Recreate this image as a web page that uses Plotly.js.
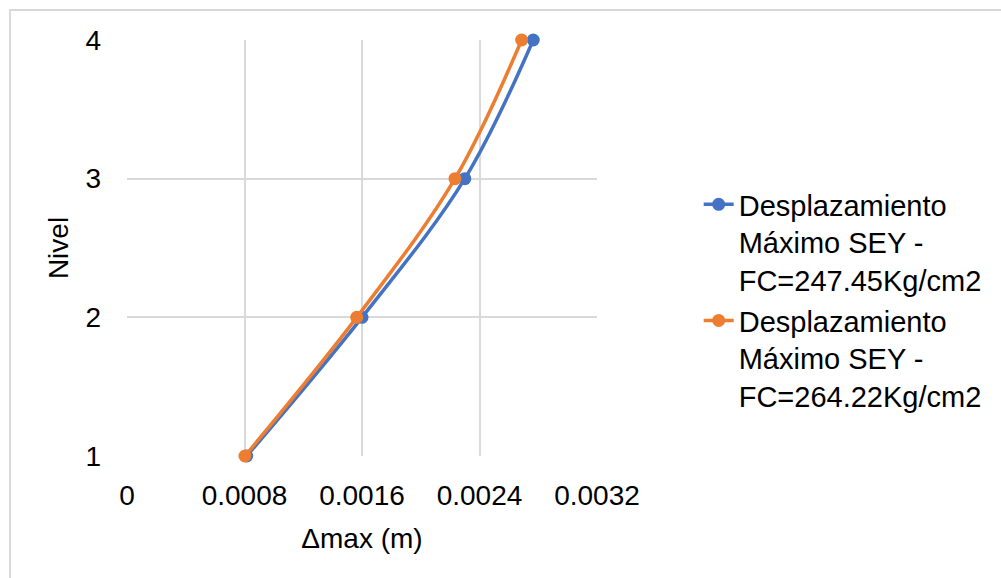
<!DOCTYPE html>
<html>
<head>
<meta charset="utf-8">
<script src="https://cdn.plot.ly/plotly-3.0.1.min.js"></script>
<style>
  html, body { margin: 0; padding: 0; background: #ffffff; }
  #chart { width: 1001px; height: 578px; }
</style>
</head>
<body>
<div id="chart"></div>
<script>
// Storey levels and maximum displacement per level (m)
const niveles = [1, 2, 3, 4];
const despFc247 = [0.000815, 0.00160, 0.00230, 0.002766];
const despFc264 = [0.000803, 0.001564, 0.002233, 0.002687];
const serieNombres = [
  'Desplazamiento<br>Máximo SEY -<br>FC=247.45Kg/cm2',
  'Desplazamiento<br>Máximo SEY -<br>FC=264.22Kg/cm2'
];
const xTicks = [0, 0.0008, 0.0016, 0.0024, 0.0032];
const xTickText = ['0', '0.0008', '0.0016', '0.0024', '0.0032'];

const FONT = 'Arial, "Liberation Sans", sans-serif';

function serie(x, name, color) {
  return {
    x: x, y: niveles, name: name, type: 'scatter', mode: 'lines+markers',
    line: { color: color, width: 3.5, shape: 'spline', smoothing: 1 },
    marker: { color: color, size: 13 },
    cliponaxis: false
  };
}

const data = [
  serie(despFc247, serieNombres[0], '#4472C4'),
  serie(despFc264, serieNombres[1], '#ED7D31')
];

const layout = {
  width: 1001, height: 578,
  margin: { l: 127, r: 404, t: 40, b: 122 },
  paper_bgcolor: '#ffffff', plot_bgcolor: '#ffffff',
  font: { family: FONT, size: 28, color: '#000000' },
  showlegend: true,
  legend: {
    xref: 'container', yref: 'container',
    x: 0.698, y: 1 - 179 / 578, xanchor: 'left', yanchor: 'top',
    valign: 'top', font: { family: FONT, size: 29, color: '#000000' },
    tracegroupgap: 7, bgcolor: 'rgba(0,0,0,0)'
  },
  xaxis: {
    range: [0, 0.0032], tickvals: xTicks, ticktext: xTickText,
    showgrid: true, gridcolor: '#d9d9d9', gridwidth: 2,
    zeroline: false, showline: false, ticks: '',
    ticklabelstandoff: 20,
    tickfont: { family: FONT, size: 28, color: '#000000' },
    title: { text: 'Δmax (m)', font: { family: FONT, size: 28, color: '#000000' }, standoff: 18 }
  },
  yaxis: {
    range: [1, 4], tickvals: niveles,
    showgrid: true, gridcolor: '#d9d9d9', gridwidth: 2,
    zeroline: false, showline: false, ticks: '',
    ticklabelstandoff: 25,
    tickfont: { family: FONT, size: 28, color: '#000000' },
    title: { text: 'Nivel', font: { family: FONT, size: 28, color: '#000000' }, standoff: 8 }
  },
  shapes: [{
    type: 'rect', xref: 'paper', yref: 'paper',
    x0: -117 / 470, x1: 1.9, y0: -1, y1: 1 + 30 / 416,
    line: { color: '#d9d9d9', width: 2 }, fillcolor: 'rgba(0,0,0,0)', layer: 'below'
  }]
};

Plotly.newPlot('chart', data, layout, { displayModeBar: false, staticPlot: true });
</script>
</body>
</html>
